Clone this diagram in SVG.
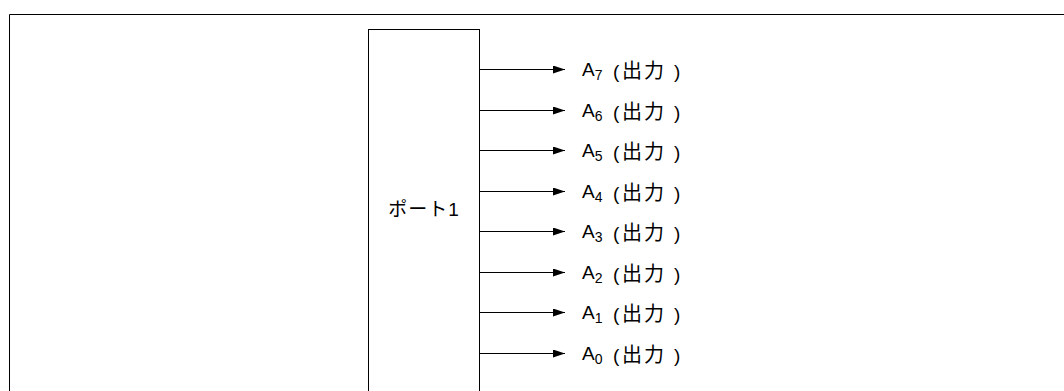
<svg xmlns="http://www.w3.org/2000/svg" width="1064" height="391" viewBox="0 0 1064 391">
<defs>
<marker id="ah" markerWidth="12" markerHeight="8" refX="12" refY="4" orient="auto" markerUnits="userSpaceOnUse">
<path d="M0,0 L12,4 L0,8 Z" fill="#000"/>
</marker>
<style>
.ln{stroke:#000;stroke-width:1;fill:none}
.t{font-family:"Liberation Sans","Noto Sans CJK JP",sans-serif;font-size:19px;fill:#000}
.p{font-family:"Liberation Sans","Noto Sans CJK JP",sans-serif;font-size:19px;fill:#000;letter-spacing:1px}
.s{font-size:14px}
.c{font-family:"Noto Sans CJK JP",sans-serif;font-size:20px}
</style>
</defs>
<rect width="1064" height="391" fill="#fff"/>
<path class="ln" d="M9.5,400 V14.5 H1070"/>
<g id="port1">
<rect class="ln" x="368.5" y="29.5" width="111" height="380"/>
<text class="p" x="424" y="216" text-anchor="middle">ポート1</text>
</g>
<g id="connectors">
<line class="ln" x1="480" y1="69.5" x2="565" y2="69.5" marker-end="url(#ah)"/>
<line class="ln" x1="480" y1="110.5" x2="565" y2="110.5" marker-end="url(#ah)"/>
<line class="ln" x1="480" y1="150.5" x2="565" y2="150.5" marker-end="url(#ah)"/>
<line class="ln" x1="480" y1="191.5" x2="565" y2="191.5" marker-end="url(#ah)"/>
<line class="ln" x1="480" y1="231.5" x2="565" y2="231.5" marker-end="url(#ah)"/>
<line class="ln" x1="480" y1="272.5" x2="565" y2="272.5" marker-end="url(#ah)"/>
<line class="ln" x1="480" y1="312.5" x2="565" y2="312.5" marker-end="url(#ah)"/>
<line class="ln" x1="480" y1="353.5" x2="565" y2="353.5" marker-end="url(#ah)"/>
</g>
<g id="a7"><text class="t" x="582" y="76">A<tspan class="s" dy="4">7</tspan><tspan x="613" dy="-2">(</tspan><tspan class="c" x="622">出</tspan><tspan class="c" x="644">力</tspan><tspan x="674">)</tspan></text></g>
<g id="a6"><text class="t" x="582" y="117">A<tspan class="s" dy="4">6</tspan><tspan x="613" dy="-2">(</tspan><tspan class="c" x="622">出</tspan><tspan class="c" x="644">力</tspan><tspan x="674">)</tspan></text></g>
<g id="a5"><text class="t" x="582" y="157">A<tspan class="s" dy="4">5</tspan><tspan x="613" dy="-2">(</tspan><tspan class="c" x="622">出</tspan><tspan class="c" x="644">力</tspan><tspan x="674">)</tspan></text></g>
<g id="a4"><text class="t" x="582" y="198">A<tspan class="s" dy="4">4</tspan><tspan x="613" dy="-2">(</tspan><tspan class="c" x="622">出</tspan><tspan class="c" x="644">力</tspan><tspan x="674">)</tspan></text></g>
<g id="a3"><text class="t" x="582" y="238">A<tspan class="s" dy="4">3</tspan><tspan x="613" dy="-2">(</tspan><tspan class="c" x="622">出</tspan><tspan class="c" x="644">力</tspan><tspan x="674">)</tspan></text></g>
<g id="a2"><text class="t" x="582" y="279">A<tspan class="s" dy="4">2</tspan><tspan x="613" dy="-2">(</tspan><tspan class="c" x="622">出</tspan><tspan class="c" x="644">力</tspan><tspan x="674">)</tspan></text></g>
<g id="a1"><text class="t" x="582" y="319">A<tspan class="s" dy="4">1</tspan><tspan x="613" dy="-2">(</tspan><tspan class="c" x="622">出</tspan><tspan class="c" x="644">力</tspan><tspan x="674">)</tspan></text></g>
<g id="a0"><text class="t" x="582" y="360">A<tspan class="s" dy="4">0</tspan><tspan x="613" dy="-2">(</tspan><tspan class="c" x="622">出</tspan><tspan class="c" x="644">力</tspan><tspan x="674">)</tspan></text></g>
</svg>
